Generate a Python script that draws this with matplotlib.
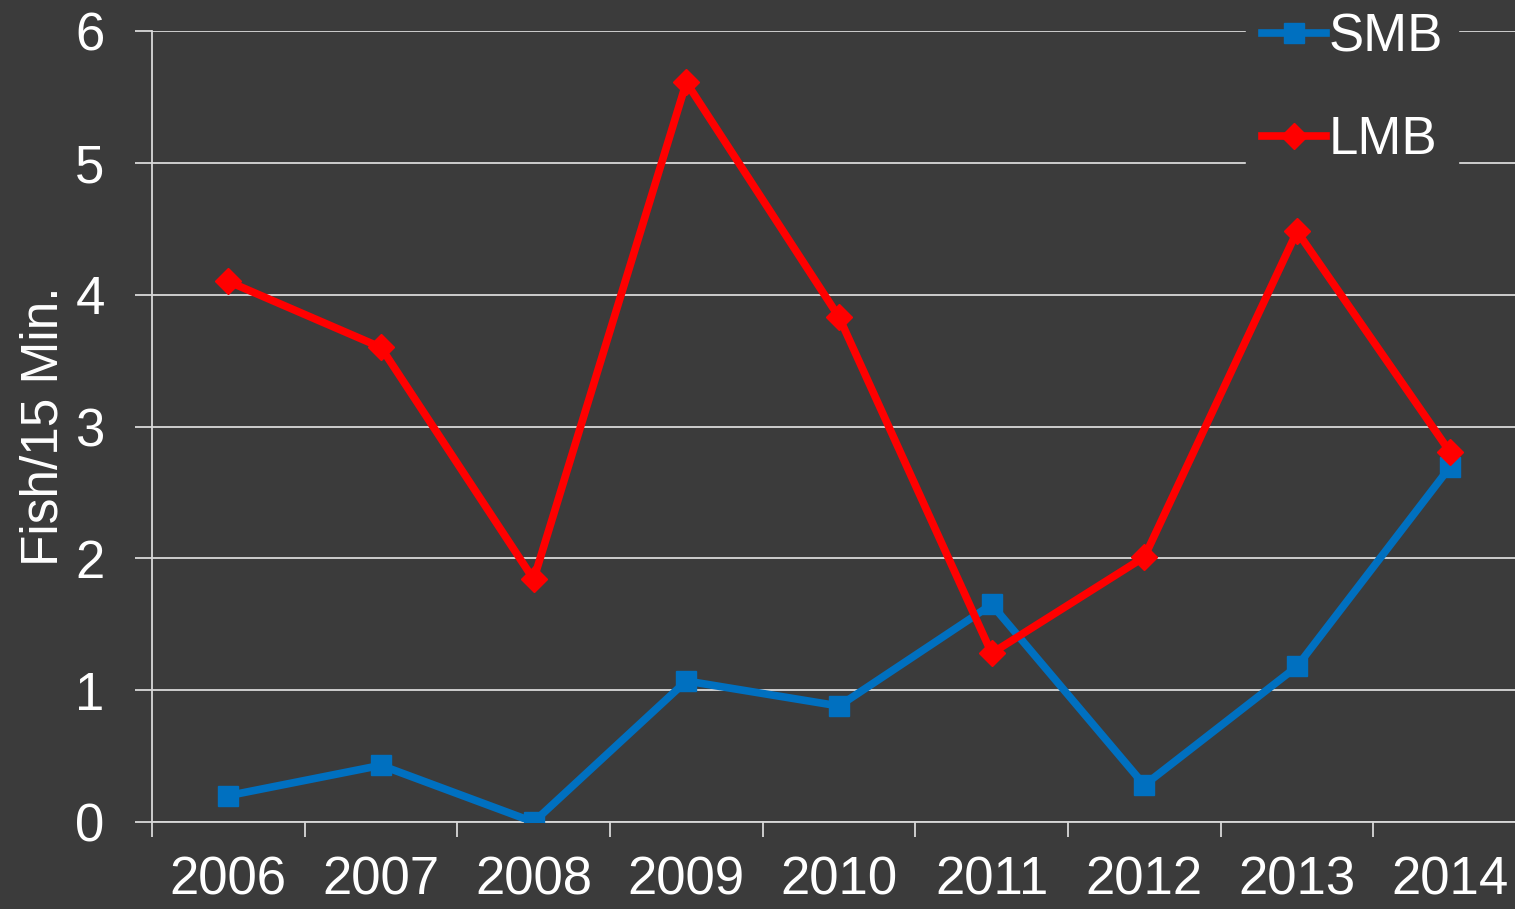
import matplotlib.pyplot as plt

plt.rcParams['font.family'] = ['Liberation Sans', 'DejaVu Sans']

years = ['2006', '2007', '2008', '2009', '2010', '2011', '2012', '2013', '2014']
smb = [0.20, 0.43, 0.00, 1.07, 0.88, 1.65, 0.28, 1.18, 2.69]
lmb = [4.10, 3.60, 1.84, 5.61, 3.83, 1.28, 2.01, 4.48, 2.81]

bg = '#3b3b3b'
grid_col = '#d9d9d9'

fig = plt.figure(figsize=(15.15, 9.09), dpi=100, facecolor=bg)
ax = fig.add_axes([0.1003, 0.0957, 0.907, 0.8702], facecolor=bg)

x = list(range(len(years)))
ax.plot(x, smb, '-s', color='#0070c0', lw=5.5, ms=14, label='SMB', zorder=3)
ax.plot(x, lmb, '-D', color='#ff0000', lw=5.5, ms=13, label='LMB', zorder=4)

ax.set_xlim(-0.5, len(years) - 0.5)
ax.set_ylim(0, 6)
ax.set_yticks(range(0, 7))
ax.yaxis.grid(True, color=grid_col, lw=1.3)
ax.set_axisbelow(True)

# category ticks between the years, labels centred on the years
ax.set_xticks([i - 0.5 for i in range(len(years) + 1)])
ax.set_xticklabels([])
ax.set_xticks(x, minor=True)
ax.set_xticklabels(years, minor=True)
ax.tick_params(axis='x', which='major', length=11, width=1.3, color=grid_col)
ax.tick_params(axis='x', which='minor', length=0, pad=24, labelsize=38, labelcolor='white')
ax.tick_params(axis='y', length=12, width=1.3, color=grid_col, pad=22,
               labelsize=38, labelcolor='white')

for s in ['top', 'right']:
    ax.spines[s].set_visible(False)
for s in ['left', 'bottom']:
    ax.spines[s].set_color(grid_col)
    ax.spines[s].set_linewidth(1.3)

ax.set_ylabel('Fish/15 Min.', fontsize=37, color='white', labelpad=5)

leg = ax.legend(loc='upper left', bbox_to_anchor=(1220 / 1515, 1.033),
                bbox_transform=fig.transFigure, fontsize=38, frameon=True,
                facecolor=bg, edgecolor=bg, framealpha=1, handlelength=1.2,
                handletextpad=0.05, labelspacing=1.0, borderpad=0.3)
for t in leg.get_texts():
    t.set_color('white')

fig.savefig('out.png', dpi=100, facecolor=bg)
